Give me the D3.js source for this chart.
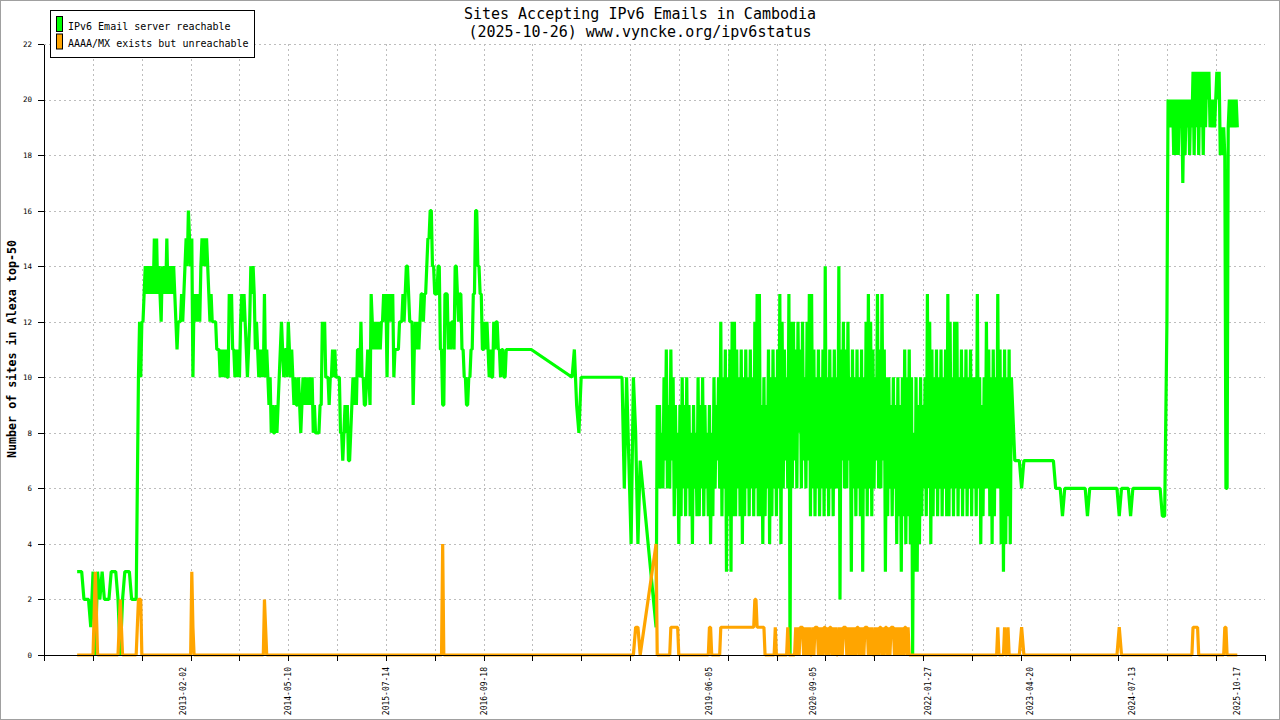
<!DOCTYPE html>
<html>
<head>
<meta charset="utf-8">
<script src="https://cdn.jsdelivr.net/npm/d3@7"></script>
<style>
  body { margin: 0; background: #fff; }
  svg { display: block; }
  text { font-family: "DejaVu Sans Mono", "Liberation Mono", monospace; }
</style>
</head>
<body>
<svg id="chart" width="1280" height="720"></svg>
<script>
const titleLines = ["Sites Accepting IPv6 Emails in Cambodia", "(2025-10-26) www.vyncke.org/ipv6status"];
const yLabel = "Number of sites in Alexa top-50";
const seriesNames = ["IPv6 Email server reachable", "AAAA/MX exists but unreachable"];
const seriesColors = ["#00ff00", "#ffa500"];
const yTicks = [0, 2, 4, 6, 8, 10, 12, 14, 16, 18, 20, 22];
const xLabels = ["2013-02-02", "2014-05-10", "2015-07-14", "2016-09-18", "2019-06-05",
                 "2020-09-05", "2022-01-27", "2023-04-20", "2024-07-13", "2025-10-17"];

// readings are sampled every N days (blockSteps), each block starts at its date
// (no data between some blocks, the line just joins them)
const blockStarts = ["2011-10-24", "2012-07-20", "2014-11-17", "2017-10-12", "2018-10-17", "2023-02-13", "2024-12-14"];
const blockSteps = [10, 5, 5, 10, 5, 10, 5];

const reachable2011 = [
  3, 3, 3, 2, 2, 2, 1, 3, 0, 3,
  2, 3, 2, 2, 2, 3, 3, 3, 2, 0,
  2, 3, 3, 3, 2, 2, 2
];
const reachable2012 = [
  10, 12, 10, 12,
  12,
  13, 14, 13, 14, 13, 14, 13, 14, 13, 15, 13, 15, 13, 14, 13,
  12,
  14, 13, 14, 13,
  15,
  13, 14, 13, 14, 13, 14, 13,
  12,
  11, 12,
  12, 12, 13, 12,
  13, 14,
  15, 14,
  16,
  15, 14, 15,
  10,
  13, 12, 13, 12, 13, 12,
  14, 15, 14, 15, 14, 15, 14,
  13, 12, 13, 12,
  12, 12,
  12, 11, 11, 11,
  10, 11, 10,
  11, 10, 11,
  10, 10,
  13, 12, 13,
  11, 11, 10,
  11, 10, 11, 10,
  12, 13, 12, 13, 12,
  11, 10,
  11, 12,
  14, 13, 14,
  13,
  11, 12, 11,
  10, 11, 10, 11, 10,
  13,
  10, 11, 10, 9, 10,
  8, 9, 8, 8,
  9, 8, 9,
  10, 11, 12,
  11, 10, 11, 11, 10,
  12,
  11, 10, 11, 10,
  9, 10, 9, 9, 10, 9,
  8, 9,
  10, 9, 10, 9, 10, 9, 10, 9, 10,
  8, 9, 8, 8, 8, 8, 9,
  9,
  12, 11, 12,
  10, 10, 10,
  9, 10
];
const reachable2014 = [
  10, 11, 10, 11, 10,
  10, 10, 10,
  8, 8, 7,
  8, 9, 8, 9,
  7, 7,
  8, 9, 10, 9, 10, 9,
  11, 11, 10,
  12,
  10, 10, 9,
  9,
  10, 11, 10,
  9,
  13, 12,
  11, 12, 11, 12, 11, 12, 11, 12, 12, 13, 12, 13,
  10,
  13, 12, 13, 12, 13,
  10,
  11, 11, 11, 11, 12,
  12, 12, 13,
  12, 13, 14,
  14, 13, 12,
  12, 12,
  9, 11,
  12, 11, 12, 11, 12,
  13, 13, 12, 13, 13,
  14, 15, 15,
  16, 16,
  14, 14, 13,
  13, 13, 14,
  14,
  11, 11,
  9, 9,
  13, 13, 13,
  11, 12, 11,
  12, 12, 11,
  14, 14,
  13, 12, 13, 13,
  11, 11,
  10, 10,
  9, 9,
  10, 10,
  11, 11,
  13, 13,
  16, 16,
  14, 14,
  13, 13,
  11, 11,
  12, 11, 12, 11,
  10, 11, 10, 10,
  12, 11, 12, 12, 11,
  11, 10, 11, 11,
  10, 10,
  11, 11, 11, 11, 11, 11, 11, 11, 11, 11,
  11, 11, 11, 11, 11, 11, 11, 11, 11, 11,
  11, 11, 11
];
const reachable2017 = [
  10, 11, 9, 8,
  10, 10, 10, 10, 10, 10, 10, 10, 10, 10,
  10, 10, 10, 10, 10, 10, 10, 10, 10,
  6, 10, 7, 4, 10, 8, 4, 7
];
const reachable2018 = [
  1,
  9, 6, 9, 6, 8, 6,
  10, 7, 11, 6, 9, 6, 11, 7, 10,
  5, 9, 6, 8, 4, 9,
  5, 10, 6, 9, 5, 10,
  6, 9, 5, 8, 4, 9, 6, 8, 5,
  10, 5, 9, 6, 10,
  5, 9, 6, 8, 5, 9, 4, 8, 5,
  10, 6, 9, 7, 10, 6,
  12, 5, 10, 6, 11, 3,
  10, 5, 11, 3, 12, 5, 12,
  5, 11, 6, 10, 5, 11, 4,
  10, 5, 11, 6, 10, 5, 11, 6, 10,
  5, 12, 6, 13, 5, 13,
  5, 9, 4, 10, 5, 9,
  6, 11, 4, 10, 5, 11, 6, 10, 5,
  11, 6, 13, 4, 12,
  6, 11, 7, 10, 6, 13,
  0, 12, 6,
  12, 7, 11, 6, 12, 8,
  11, 6, 12, 7, 10, 6, 12, 7, 13,
  5, 13, 6, 11, 5, 10, 6, 11, 5,
  10, 6, 11, 5, 14, 6,
  10, 5, 11, 6, 10, 5, 11, 6, 10,
  6, 14, 2,
  11, 7, 12, 6, 11, 6, 12, 7, 10, 3, 11,
  6, 10, 5, 11, 6, 10,
  5, 11, 3, 10, 6,
  12, 5, 13, 6, 12, 5,
  11, 6, 10, 7,
  13, 6, 11, 6, 13, 7,
  11, 3, 10,
  5, 10, 6, 9, 5,
  10, 6, 9, 4,
  10, 5, 9, 3, 10,
  5, 11, 4, 10, 5, 11,
  4, 10, 0, 8, 3, 10, 3, 9, 4,
  10, 5, 9, 6, 10, 5,
  13, 6, 12,
  4, 11, 5, 10, 6, 11,
  5, 10, 6, 11, 5, 10, 6, 11, 5,
  13, 5, 12,
  6, 10, 5, 12, 6, 12, 5, 10,
  6, 11, 5, 10, 6, 11, 5, 10, 6, 11, 5, 10,
  6, 10, 5, 13, 6,
  10, 4, 9, 5, 10, 6, 12,
  6, 11, 5, 10, 4, 11, 5, 10, 6,
  13, 6, 11,
  4, 10, 3, 11, 4, 10,
  5, 11, 4, 10, 9
];
const reachable2023 = [
  7, 7, 7, 6, 7, 7, 7, 7, 7, 7, 7, 7, 7, 7, 7, 7, 7, 7,
  6, 6, 6, 5, 6, 6, 6, 6, 6, 6,
  6, 6, 6, 6, 5, 6, 6, 6, 6, 6,
  6, 6, 6, 6, 6, 6, 6, 6, 5, 6,
  6, 6, 6, 5, 6, 6, 6, 6, 6, 6,
  6, 6, 6, 6, 6, 6, 6, 5, 5
];
const reachable2024 = [
  12,
  20, 19, 20, 19, 20,
  18, 20, 18, 20, 18, 20, 19, 20, 17,
  20, 18, 20, 19, 20, 18, 20, 19,
  21, 18, 21, 19, 21, 18, 21, 19, 21, 18, 21,
  19, 21, 20, 21, 19, 20,
  19, 20, 19, 20,
  21, 20, 21,
  18, 19, 18, 19, 18,
  6, 6, 19,
  20, 19, 20, 19, 20, 19, 20, 19
];

const unreachable2011 = [
  0, 0, 0, 0, 0, 0, 0, 0, 3, 0,
  0, 0, 0, 0, 0, 0, 0, 0, 0, 2,
  0, 0, 0, 0, 0, 0, 0
];
const unreachable2012 = [
  2, 2, 2, 0, 0, 0, 0, 0, 0, 0,
  0, 0, 0, 0, 0, 0, 0, 0, 0, 0,
  0, 0, 0, 0, 0, 0, 0, 0, 0, 0,
  0, 0, 0, 0, 0, 0, 0, 0, 0, 0,
  0, 0, 0, 0, 0, 0, 0, 3, 1, 0,
  0, 0, 0, 0, 0, 0, 0, 0, 0, 0,
  0, 0, 0, 0, 0, 0, 0, 0, 0, 0,
  0, 0, 0, 0, 0, 0, 0, 0, 0, 0,
  0, 0, 0, 0, 0, 0, 0, 0, 0, 0,
  0, 0, 0, 0, 0, 0, 0, 0, 0, 0,
  0, 0, 0, 0, 0, 0, 0, 0, 0, 0,
  0, 2, 1, 0, 0, 0, 0, 0, 0, 0,
  0, 0, 0, 0, 0, 0, 0, 0, 0, 0,
  0, 0, 0, 0, 0, 0, 0, 0, 0, 0,
  0, 0, 0, 0, 0, 0, 0, 0, 0, 0,
  0, 0, 0, 0, 0, 0, 0, 0, 0, 0,
  0, 0, 0, 0, 0, 0, 0, 0, 0, 0
];
const unreachable2014 = [
  0, 0, 0, 0, 0, 0, 0, 0, 0, 0,
  0, 0, 0, 0, 0, 0, 0, 0, 0, 0,
  0, 0, 0, 0, 0, 0, 0, 0, 0, 0,
  0, 0, 0, 0, 0, 0, 0, 0, 0, 0,
  0, 0, 0, 0, 0, 0, 0, 0, 0, 0,
  0, 0, 0, 0, 0, 0, 0, 0, 0, 0,
  0, 0, 0, 0, 0, 0, 0, 0, 0, 0,
  0, 0, 0, 0, 0, 0, 0, 0, 0, 0,
  0, 0, 0, 0, 0, 0, 0, 0, 0, 0,
  0, 0, 0, 0, 0, 0, 0, 0, 4, 0,
  0, 0, 0, 0, 0, 0, 0, 0, 0, 0,
  0, 0, 0, 0, 0, 0, 0, 0, 0, 0,
  0, 0, 0, 0, 0, 0, 0, 0, 0, 0,
  0, 0, 0, 0, 0, 0, 0, 0, 0, 0,
  0, 0, 0, 0, 0, 0, 0, 0, 0, 0,
  0, 0, 0, 0, 0, 0, 0, 0, 0, 0,
  0, 0, 0, 0, 0, 0, 0, 0, 0, 0,
  0, 0, 0, 0, 0, 0, 0
];
const unreachable2017 = [
  0, 0, 0, 0,
  0, 0, 0, 0, 0, 0, 0, 0, 0, 0,
  0, 0, 0, 0, 0, 0, 0, 0, 0,
  0, 0, 0, 0, 0, 1, 1, 0
];
const unreachable2018 = [
  4,
  0, 0, 0, 0, 0, 0, 0, 0, 0, 0, 0, 0,
  1, 1, 1, 1, 1, 1, 1,
  0, 0, 0, 0, 0, 0, 0, 0, 0, 0,
  0, 0, 0, 0, 0, 0, 0, 0, 0, 0,
  0, 0, 0, 0, 0, 0, 0,
  1, 1,
  0, 0, 0, 0, 0, 0, 0, 0,
  1, 1, 1, 1, 1, 1, 1, 1, 1, 1,
  1, 1, 1, 1, 1, 1, 1, 1, 1, 1,
  1, 1, 1, 1, 1, 1, 1, 1, 1, 1,
  2, 2,
  1, 1, 1, 1, 1, 1, 1,
  0, 0, 0, 0, 0, 0, 0, 0, 0,
  1,
  0, 0, 0, 0, 0, 0, 0, 0, 0, 0,
  1,
  0, 0, 0, 0, 0, 0,
  1, 0, 1, 0, 1, 1, 1, 0, 1, 0,
  1, 0, 1, 0, 0, 1, 0, 1, 1, 1,
  0, 1, 0, 1, 0, 1, 1, 0, 1, 0,
  1, 1, 0, 1, 0, 1, 0, 0, 1, 0,
  1, 0, 1, 1, 1, 0, 1, 0, 1, 0,
  1, 0, 1, 0, 1, 1, 0, 1, 0, 1,
  0, 1, 1, 1, 0, 1, 0, 1, 0, 0,
  1, 0, 1, 0, 1, 1, 0, 1, 0, 1,
  1, 0, 1, 0, 1, 1, 1, 0, 1, 0,
  1, 0, 1, 0, 1, 0, 1, 1, 0, 1,
  0,
  0, 0, 0, 0, 0, 0, 0, 0, 0, 0,
  0, 0, 0, 0, 0, 0, 0, 0, 0, 0,
  0, 0, 0, 0, 0, 0, 0, 0, 0, 0,
  0, 0, 0, 0, 0, 0, 0, 0, 0, 0,
  0, 0, 0, 0, 0, 0, 0, 0, 0, 0,
  0, 0, 0, 0, 0, 0, 0, 0, 0, 0,
  0, 0, 0, 0, 0, 0, 0, 0, 0, 0,
  0, 0, 0, 0, 0, 0, 0,
  1,
  0, 0, 0, 0, 0,
  1,
  0, 0,
  1,
  0, 0, 0, 0
];
const unreachable2023 = [
  0, 0, 0, 1, 0, 0, 0, 0, 0, 0,
  0, 0, 0, 0, 0, 0, 0, 0, 0, 0,
  0, 0, 0, 0, 0, 0, 0, 0, 0, 0,
  0, 0, 0, 0, 0, 0, 0, 0, 0, 0,
  0, 0, 0, 0, 0, 0, 1, 0, 0, 0,
  0, 0, 0, 0, 0, 0, 0, 0, 0, 0,
  0, 0, 0, 0, 0, 0, 0
];
const unreachable2024 = [
  0, 0, 0, 0, 0, 0, 0, 0, 0, 0,
  0, 0, 0, 0, 0, 0, 0, 0, 0, 0,
  0, 0, 0,
  1, 1, 1, 1, 1,
  0, 0, 0, 0, 0, 0, 0, 0, 0, 0,
  0, 0, 0, 0, 0, 0, 0, 0, 0, 0,
  0, 0, 0,
  1, 1,
  0, 0, 0, 0, 0, 0, 0, 0, 0, 0
];

const reachableBlocks = [reachable2011, reachable2012, reachable2014, reachable2017,
                         reachable2018, reachable2023, reachable2024];
const unreachableBlocks = [unreachable2011, unreachable2012, unreachable2014, unreachable2017,
                           unreachable2018, unreachable2023, unreachable2024];

const parseDay = d3.utcParse("%Y-%m-%d");

function toPoints(blocks) {
    let pts = [];
    blocks.forEach((vals, b) => {
        const start = parseDay(blockStarts[b]);
        vals.forEach((v, k) => pts.push({date: d3.utcDay.offset(start, k * blockSteps[b]), value: v}));
    });
    return pts;
}

let svg = d3.select("#chart");
const plotLeft = 44, plotRight = 1265, plotTop = 44, plotBottom = 655;

let x = d3.scaleUtc()
    .domain([parseDay("2011-05-31"), parseDay("2026-02-19")])
    .range([plotLeft, plotRight]);
let y = d3.scaleLinear().domain([0, 22]).range([plotBottom, plotTop]);

// the x axis has 25 even divisions, labels sit on their own dates
const [d0, d1] = x.domain();
const xTickDates = d3.range(26).map(k => new Date(+d0 + (d1 - d0) * k / 25));

svg.append("rect")
    .attr("x", 0.5).attr("y", 0.5).attr("width", 1279).attr("height", 719)
    .attr("fill", "#fff").attr("stroke", "#a0a0a0");

// grid
let grid = svg.append("g")
    .attr("stroke", "#bdbdbd").attr("stroke-dasharray", "2,3")
    .attr("shape-rendering", "crispEdges");
grid.selectAll("line.h").data(yTicks.filter(v => v > 0)).join("line")
    .attr("class", "h")
    .attr("x1", plotLeft).attr("x2", plotRight)
    .attr("y1", d => Math.round(y(d)) + 0.5).attr("y2", d => Math.round(y(d)) + 0.5);
grid.selectAll("line.v").data(xTickDates.slice(1, 25)).join("line")
    .attr("class", "v")
    .attr("x1", d => Math.round(x(d)) + 0.5).attr("x2", d => Math.round(x(d)) + 0.5)
    .attr("y1", plotTop).attr("y2", plotBottom);

// series
const line = d3.line().x(d => x(d.date)).y(d => y(d.value));
[reachableBlocks, unreachableBlocks].forEach((blocks, k) => {
    svg.append("path")
        .datum(toPoints(blocks))
        .attr("d", line)
        .attr("fill", "none")
        .attr("stroke", seriesColors[k])
        .attr("stroke-width", 3.2)
        .attr("stroke-linejoin", "bevel");
});

// axes
svg.append("g")
    .attr("transform", `translate(${plotLeft},0)`)
    .call(d3.axisLeft(y).tickValues(yTicks).tickSize(6).tickPadding(6).tickSizeOuter(0))
    .attr("font-family", "DejaVu Sans Mono").attr("font-size", 7.5)
    .attr("shape-rendering", "crispEdges");

svg.append("g")
    .attr("transform", `translate(0,${plotBottom})`)
    .call(d3.axisBottom(x).tickValues(xTickDates).tickFormat("").tickSize(6).tickSizeOuter(0))
    .attr("shape-rendering", "crispEdges");

svg.append("g").selectAll("text").data(xLabels).join("text")
    .attr("transform", d => `translate(${x(parseDay(d)) + 3},667) rotate(-90)`)
    .attr("text-anchor", "end")
    .attr("font-size", 8)
    .text(d => d);

// titles
svg.append("g").selectAll("text").data(titleLines).join("text")
    .attr("x", 640).attr("y", (d, i) => 18.5 + i * 18)
    .attr("text-anchor", "middle")
    .attr("font-size", 15)
    .text(d => d);

svg.append("text")
    .attr("transform", "translate(16,349) rotate(-90)")
    .attr("text-anchor", "middle")
    .attr("font-size", 11.7)
    .attr("font-weight", "bold")
    .text(yLabel);

// legend
let legend = svg.append("g");
legend.append("rect")
    .attr("x", 50.5).attr("y", 10.5).attr("width", 204).attr("height", 47)
    .attr("fill", "#fff").attr("stroke", "#000");
seriesNames.forEach((name, k) => {
    legend.append("rect")
        .attr("x", 56.5).attr("y", 16.5 + 17.5 * k).attr("width", 6).attr("height", 15)
        .attr("fill", seriesColors[k]).attr("stroke", "#000");
    legend.append("text")
        .attr("x", 68).attr("y", 29.5 + 17.5 * k)
        .attr("font-size", 10)
        .text(name);
});
</script>
</body>
</html>
